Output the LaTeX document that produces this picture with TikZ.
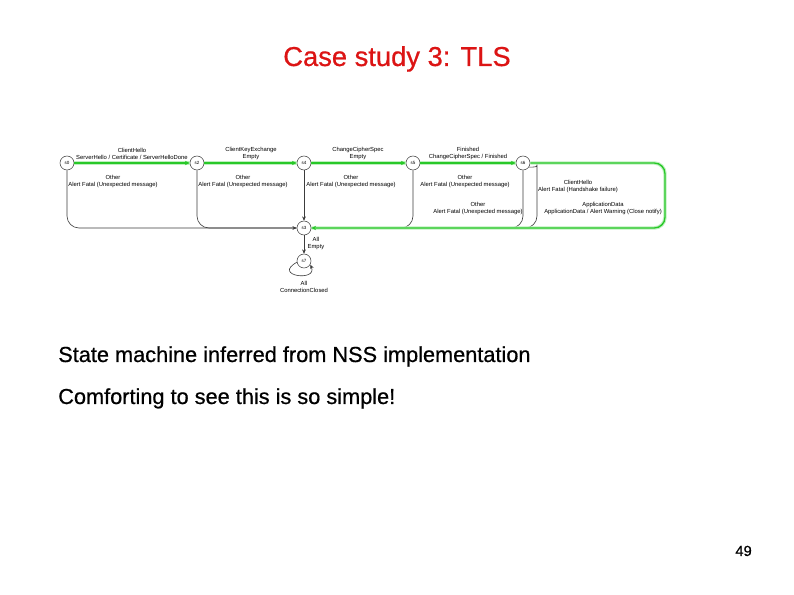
\documentclass[tikz,border=0pt]{standalone}
\usepackage{fontspec}
\setmainfont{Liberation Sans}
\newfontfamily\heavyfont[FakeBold=0.6]{Liberation Sans}
\usetikzlibrary{arrows.meta}
\definecolor{titlered}{RGB}{220,20,20}
\definecolor{grnline}{RGB}{40,200,40}
\definecolor{grnhalo}{RGB}{190,240,190}
\definecolor{edgegray}{RGB}{60,60,60}
\begin{document}
\begin{tikzpicture}[x=0.75pt,y=-0.75pt,
  st/.style={circle,draw=edgegray,fill=white,line width=0.4pt,minimum size=10.5pt,inner sep=0pt,font=\fontsize{3.4}{3.4}\selectfont},
  lab/.style={font=\fontsize{4.4}{5.1}\selectfont,align=center,inner sep=0pt},
  blk/.style={draw=edgegray,line width=0.45pt},
  blkarrow/.style={blk,-{Stealth[length=3.2pt,width=2.8pt]}},
  grn/.style={draw=grnline,line width=1pt,-{Stealth[length=3.6pt,width=3.2pt]},
     preaction={draw=grnhalo,line width=2.6pt,-}},
  title/.style={font=\heavyfont\fontsize{20.5}{24}\selectfont,text=titlered,inner sep=0pt},
  body/.style={font=\heavyfont\fontsize{16.3}{19}\selectfont,inner sep=0pt}
]
\useasboundingbox[fill=white] (0,0) rectangle (794,595);

\node[title,anchor=base] (t) at (397,66) {Case study 3: TLS};
\node[body,anchor=base west] (b1) at (58,362) {State machine inferred from NSS implementation};
\node[body,anchor=base west] (b2) at (58,404) {Comforting to see this is so simple!};
\node[font=\heavyfont\fontsize{11}{13}\selectfont,inner sep=0pt,anchor=base east] (pg) at (752,556) {49};

% states
\node[st] (s0) at (67,163) {s0};
\node[st] (s2) at (197,163) {s2};
\node[st] (s4) at (304,163) {s4};
\node[st] (s5) at (413,163) {s5};
\node[st] (s6) at (523,163) {s6};
\node[st] (s3) at (304,228) {s3};
\node[st] (s7) at (304,261) {s7};

% corner coordinates
\coordinate (c0) at (67,228);
\coordinate (c2) at (197,228);
\coordinate (c5) at (413,228);
\coordinate (c6) at (523,228);
\coordinate (c6b) at (537,228);
\coordinate (c6t) at (537,176);
\coordinate (g1) at (665,163);
\coordinate (g2) at (665,228);

% black edges to s3
\draw[blk,rounded corners=9pt] (s5.south) -- (c5) -- (s3.east);
\draw[blk,rounded corners=9pt] (s6.south) -- (c6) -- (s3.east);
\draw[blk,rounded corners=9pt] (s6.-35) .. controls (537,167) .. (c6t) -- (c6b) -- (s3.east);
\draw[blk,rounded corners=9pt] (s2.south) -- (c2) -- (s3.west);
\draw[blkarrow,rounded corners=9pt] (s0.south) -- (c0) -- (s3.west);
\draw[blkarrow] (s4) -- (s3);
\draw[blkarrow] (s3) -- (s7);
\draw[blkarrow] (s7.190) .. controls (272,276) and (318,282) .. (s7.-30);

% green edges
\draw[grn] (s0) -- (s2);
\draw[grn] (s2) -- (s4);
\draw[grn] (s4) -- (s5);
\draw[grn] (s5) -- (s6);
\draw[grn,rounded corners=8pt] (s6.east) -- (g1) -- (g2) -- (s3.east);

% labels
\node[lab,anchor=south] (l01) at (132,160) {ClientHello\\ServerHello / Certificate / ServerHelloDone};
\node[lab,anchor=south] (l24) at (251,160) {ClientKeyExchange\\Empty};
\node[lab,anchor=south] (l45) at (358,160) {ChangeCipherSpec\\Empty};
\node[lab,anchor=south] (l56) at (468,160) {Finished\\ChangeCipherSpec / Finished};

\node[lab,anchor=north] (o0) at (113,175) {Other\\Alert Fatal (Unexpected message)};
\node[lab,anchor=north] (o2) at (243,175) {Other\\Alert Fatal (Unexpected message)};
\node[lab,anchor=north] (o4) at (351,175) {Other\\Alert Fatal (Unexpected message)};
\node[lab,anchor=north] (o5) at (465,175) {Other\\Alert Fatal (Unexpected message)};
\node[lab,anchor=north] (o6) at (478,202) {Other\\Alert Fatal (Unexpected message)};
\node[lab,anchor=north] (ch) at (578,180) {ClientHello\\Alert Fatal (Handshake failure)};
\node[lab,anchor=north] (ad) at (603,202) {ApplicationData\\ApplicationData / Alert Warning (Close notify)};
\node[lab,anchor=north] (ae) at (316,237) {All\\Empty};
\node[lab,anchor=north] (ac) at (304,281) {All\\ConnectionClosed};
\end{tikzpicture}
\end{document}
